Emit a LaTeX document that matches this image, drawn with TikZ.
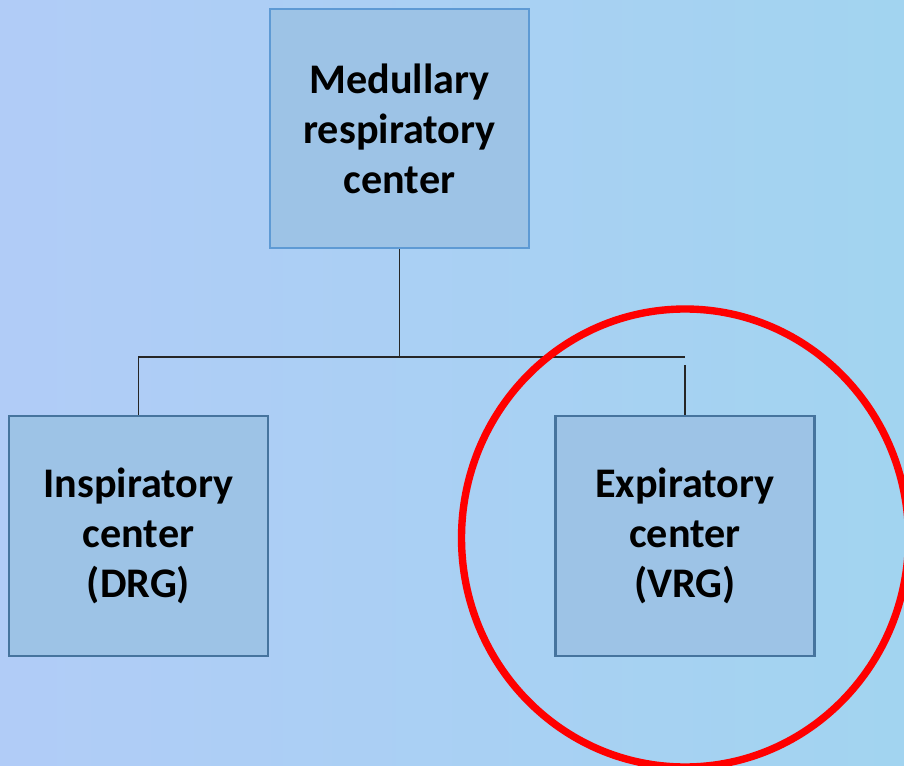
\documentclass[tikz,border=0pt]{standalone}
\usepackage{fontspec}
\setmainfont{Carlito}
\usepackage{tikz}

\definecolor{bgleft}{RGB}{177,204,247}
\definecolor{bgright}{RGB}{162,212,240}
\definecolor{boxfill}{RGB}{157,195,230}
\definecolor{boxline}{RGB}{70,116,158}
\definecolor{topline}{RGB}{94,154,212}

\tikzset{
    centerbox/.style={rectangle,draw=boxline,line width=1.2pt,fill=boxfill,
        minimum width=5.18cm,minimum height=4.8cm,align=center,
        font=\fontsize{24}{28.5}\selectfont\bfseries},
    link/.style={draw=black!85,line width=0.7pt}
}

\begin{document}
\begin{tikzpicture}
    % Background
    \useasboundingbox (0,0) rectangle (18.08,15.3);
    \shade[left color=bgleft,right color=bgright] (0,0) rectangle (18.08,15.3);

    % Nodes for the centers
    \node[centerbox,draw=topline,minimum height=4.78cm] (med) at (7.99,12.73) {Medullary\\respiratory\\center};
    \node[centerbox] (insp) at (2.77,4.58) {Inspiratory\\center\\(DRG)};
    \node[centerbox] (exp) at (13.7,4.58) {Expiratory\\center\\(VRG)};
    \coordinate (bar) at (7.99,8.16);

    % Connections between the centers
    \draw[link] (med.south) -- (bar);
    \draw[link] (insp.north) |- (bar -| exp.north);
    \draw[link] (exp.north) -- ++(0,1.0);

    % Highlight round the expiratory center
    \draw[red,line width=4.2pt] (13.7,4.54) ellipse (4.47 and 4.58);
\end{tikzpicture}
\end{document}
